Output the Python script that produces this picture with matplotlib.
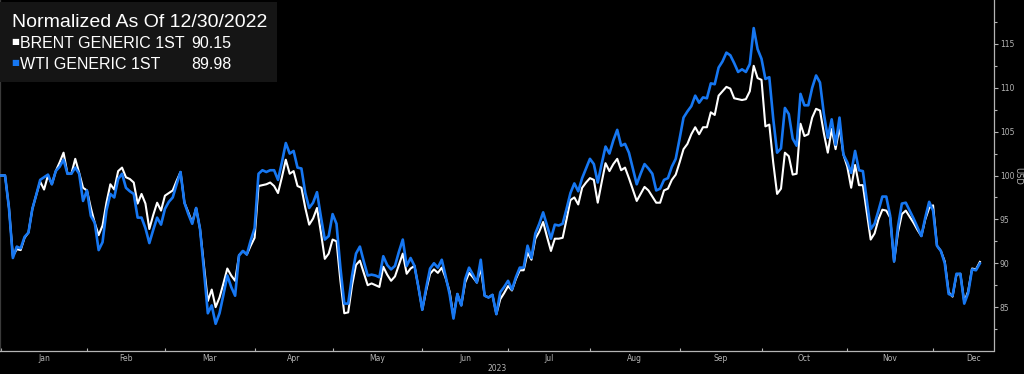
import matplotlib.pyplot as plt
import numpy as np
import pandas as pd

# normalized to 100 as of 12/30/2022, one value per business day from 2023-01-02
brent = [100.0, 100.0, 96.3, 90.8, 91.6, 91.5, 92.9, 93.5, 96.2, 97.8,
         99.3, 98.4, 100.0, 99.0, 100.5, 101.5, 102.6, 100.2, 100.2, 101.9,
         100.3, 98.6, 98.3, 96.3, 94.6, 93.2, 94.3, 96.9, 99.0, 98.4,
         100.5, 100.9, 99.8, 99.6, 99.2, 96.8, 97.9, 96.8, 93.9, 95.5,
         96.9, 96.0, 97.7, 98.0, 98.3, 99.4, 100.4, 96.9, 95.8, 94.6,
         96.3, 93.9, 89.8, 85.7, 87.0, 85.0, 86.1, 87.7, 89.4, 88.6,
         88.0, 90.9, 91.4, 91.0, 92.0, 92.9, 98.8, 98.9, 99.0, 99.2,
         98.8, 98.0, 99.8, 101.8, 100.2, 100.5, 98.8, 98.6, 96.3, 94.4,
         95.1, 96.3, 93.5, 90.5, 91.1, 92.7, 92.5, 88.0, 84.3, 84.4,
         87.5, 89.8, 90.3, 88.9, 87.5, 87.7, 87.5, 87.3, 89.6, 88.7,
         88.0, 88.5, 89.8, 91.1, 88.8, 89.4, 89.7, 87.3, 84.7, 86.9,
         88.8, 89.3, 88.9, 89.5, 88.3, 86.8, 83.9, 86.5, 85.2, 87.8,
         88.9, 88.4, 87.8, 89.4, 86.3, 86.1, 86.4, 84.2, 85.9, 86.6,
         87.4, 86.9, 88.2, 89.2, 89.2, 91.2, 90.4, 92.8, 93.6, 94.7,
         93.0, 91.4, 92.8, 92.8, 92.9, 95.0, 97.2, 97.5, 96.7, 98.6,
         99.2, 99.7, 99.5, 96.9, 99.2, 101.4, 100.5, 101.3, 101.9, 100.6,
         100.9, 99.7, 98.4, 97.1, 97.9, 98.7, 98.3, 97.6, 96.9, 96.9,
         98.3, 98.5, 99.5, 100.1, 101.5, 103.0, 103.6, 104.7, 105.5, 104.7,
         105.5, 105.5, 107.2, 106.9, 109.1, 109.6, 110.1, 109.9, 108.8, 108.7,
         108.6, 108.7, 109.6, 112.5, 111.1, 110.9, 105.6, 105.8, 101.5, 97.9,
         98.5, 102.6, 102.2, 100.1, 100.2, 105.9, 104.5, 104.7, 106.6, 107.6,
         107.4, 104.8, 102.6, 105.3, 103.0, 105.5, 102.4, 101.0, 98.6, 101.2,
         98.9, 98.9, 95.8, 92.7, 93.4, 95.0, 96.1, 96.0, 95.2, 90.2,
         93.5, 95.6, 96.0, 95.3, 94.6, 93.8, 93.1, 95.0, 96.3, 96.6,
         92.0, 91.4, 90.2, 86.7, 86.2, 88.7, 88.8, 85.6, 86.8, 89.4,
         89.3, 90.15]
wti = [100.0, 100.0, 96.3, 90.6, 91.9, 91.7, 93.0, 93.5, 96.2, 97.8,
       99.5, 99.8, 100.1, 99.0, 100.5, 101.0, 101.8, 100.2, 100.2, 100.9,
       100.2, 97.1, 98.3, 95.4, 94.6, 91.5, 92.4, 96.0, 97.9, 97.5,
       99.6, 100.2, 98.6, 98.2, 97.9, 95.2, 95.2, 94.0, 92.3, 93.8,
       95.2, 94.4, 96.2, 97.0, 97.5, 99.0, 100.4, 96.9, 95.6, 94.5,
       96.3, 93.9, 89.2, 84.3, 85.2, 83.1, 84.3, 86.4, 88.6, 87.3,
       86.3, 90.9, 91.4, 91.0, 92.6, 94.0, 100.2, 100.6, 100.4, 100.6,
       100.6, 99.5, 101.5, 103.7, 102.5, 102.8, 100.9, 100.8, 98.0, 96.3,
       96.9, 98.1, 95.3, 92.7, 93.1, 95.6, 94.5, 89.5, 85.4, 85.4,
       88.6, 91.1, 91.9, 90.2, 88.6, 88.7, 88.6, 88.4, 90.8, 89.8,
       89.3, 89.7, 91.3, 92.7, 89.7, 90.6, 89.7, 87.3, 84.7, 87.2,
       89.4, 90.0, 89.5, 90.4, 88.5, 86.5, 83.7, 86.5, 85.2, 88.2,
       89.5, 88.7, 87.8, 90.4, 86.3, 86.1, 86.4, 84.2, 86.7, 87.3,
       88.0, 87.0, 88.4, 89.5, 89.5, 92.0, 90.6, 93.4, 94.5, 95.8,
       94.3, 92.8, 94.4, 94.3, 94.5, 96.2, 98.0, 99.1, 98.2, 99.7,
       100.8, 101.9, 101.3, 99.2, 101.3, 103.3, 102.5, 104.0, 105.2, 103.4,
       103.6, 102.6, 100.8, 99.0, 100.2, 101.3, 100.8, 100.2, 98.3, 98.5,
       99.5, 99.7, 101.0, 101.9, 104.2, 106.6, 107.3, 107.9, 109.1, 108.3,
       108.9, 108.8, 110.5, 110.4, 112.3, 113.0, 114.0, 113.7, 112.8, 111.8,
       112.1, 111.8, 112.7, 116.8, 114.4, 113.3, 111.0, 111.2, 106.5, 102.6,
       103.1, 107.7, 107.0, 104.2, 103.4, 109.3, 108.0, 108.0, 110.0, 111.4,
       110.6, 107.0, 104.3, 106.4, 103.5, 106.6, 102.4, 101.5, 100.3, 102.8,
       100.6, 100.5, 97.2, 93.9, 94.5, 96.0, 97.6, 97.6, 95.4, 90.2,
       94.2, 96.8, 96.9, 96.0, 95.1, 94.1, 93.1, 95.2, 97.0, 96.0,
       92.0, 91.4, 90.0, 86.5, 86.3, 88.8, 88.8, 85.4, 86.6, 89.3,
       89.2, 89.98]
dates = pd.bdate_range("2023-01-02", periods=len(brent))
months = ["Jan", "Feb", "Mar", "Apr", "May", "Jun", "Jul", "Aug", "Sep", "Oct", "Nov", "Dec"]
y_ticks = [85, 90, 95, 100, 105, 110, 115]

# business-day axis, like the terminal chart
all_days = pd.bdate_range("2023-01-02", "2024-01-01")
month_start = [int(np.argmax(all_days.month == m)) for m in range(1, 13)] + [len(all_days) - 1]
month_mid = [(month_start[i] + month_start[i + 1]) / 2 for i in range(12)]
x = np.arange(len(dates))

grey = "#b4b4b4"
fig = plt.figure(figsize=(10.24, 3.74), dpi=100, facecolor="black")
ax = fig.add_axes([0, 23 / 374, 993.5 / 1024, 351 / 374], facecolor="black")

ax.plot(x, brent, color="white", linewidth=1.5, zorder=3)
ax.plot(x, wti, color="#1677f2", linewidth=1.9, zorder=4)

ax.set_xlim(-0.3, 254.5)
ax.set_ylim(80, 120)

ax.yaxis.tick_right()
ax.yaxis.set_label_position("right")
ax.set_yticks(y_ticks)
ax.set_yticks(np.arange(82.5, 120, 5), minor=True)
ax.tick_params(axis="y", which="major", colors=grey, labelsize=5.5, length=3, width=0.8, pad=1.5)
ax.tick_params(axis="y", which="minor", colors=grey, length=2, width=0.8)
ax.set_ylabel("USD", color=grey, fontsize=6, rotation=270, labelpad=6)

ax.set_xticks(month_start[:-1])
ax.set_xticklabels([])
ax.set_xticks(month_mid, minor=True)
ax.set_xticklabels(months, minor=True)
ax.tick_params(axis="x", which="major", colors=grey, length=2, width=0.8, direction="in")
ax.tick_params(axis="x", which="minor", colors=grey, labelsize=5.5, length=0, pad=2)
ax.set_xlabel("2023", color=grey, fontsize=5.5, labelpad=1)

ax.spines["top"].set_visible(False)
ax.spines["right"].set_color(grey)
ax.spines["bottom"].set_color(grey)
ax.spines["left"].set_color("#3a3a3a")
for s in ax.spines.values():
    s.set_linewidth(0.9)

# legend panel in the top-left corner
fam = ["Liberation Sans", "DejaVu Sans"]
ax.add_patch(plt.Rectangle((0, 0.765), 0.279, 0.228, transform=ax.transAxes,
                           facecolor="#151515", edgecolor="none", zorder=5))
ax.text(12 / 993.5, 1 - 27 / 351, "Normalized As Of 12/30/2022", transform=ax.transAxes,
        color="white", fontsize=14, family=fam, zorder=6)
rows = [("BRENT GENERIC 1ST", brent[-1], "white"), ("WTI GENERIC 1ST", wti[-1], "#1677f2")]
for k, (name, val, col) in enumerate(rows):
    yy = 1 - (48 + 21 * k) / 351
    ax.text(11 / 993.5, yy + 0.01, "\u25a0", transform=ax.transAxes, color=col, fontsize=6,
            family="DejaVu Sans", zorder=6)
    ax.text(20 / 993.5, yy, name, transform=ax.transAxes, color="white", fontsize=11.5, family=fam, zorder=6)
    ax.text(191 / 993.5, yy, f"{val:.2f}", transform=ax.transAxes, color="white", fontsize=11.5,
            family=fam, zorder=6)

plt.savefig("out.png", dpi=100, facecolor="black")
